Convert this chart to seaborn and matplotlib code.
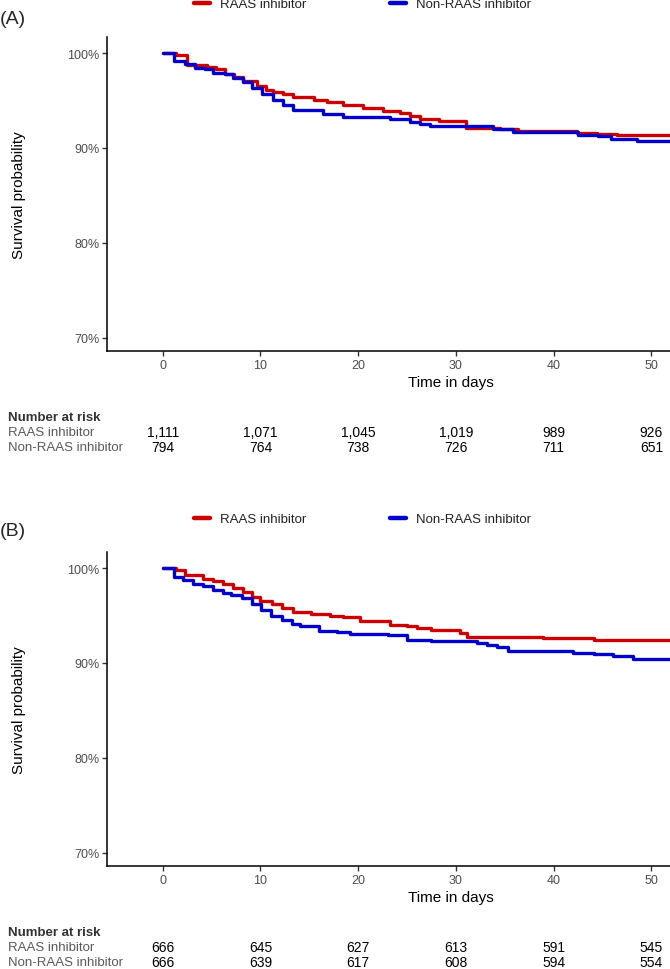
import numpy as np
import pandas as pd
import matplotlib
matplotlib.use('Agg')
import matplotlib.pyplot as plt
import matplotlib.transforms as mtransforms
from matplotlib.lines import Line2D
from matplotlib.ticker import PercentFormatter
import seaborn as sns

groups = ['RAAS inhibitor', 'Non-RAAS inhibitor']
colors = ['#cc0000', '#0000cc']

# (A) survival steps (days, %)
a_raas_t = [0, 1.4, 2.5, 4.5, 5.5, 6.4, 7.3, 8.2, 9.6, 10.6, 11.3, 12.3, 13.3, 15.5, 16.8,
            18.4, 20.5, 22.5, 24.3, 25.3, 26.3, 28.3, 31.0, 34.5, 36.3, 42.4, 44.4, 46.5, 60]
a_raas_s = [100, 99.8, 98.8, 98.5, 98.3, 97.8, 97.45, 97.1, 96.5, 96.1, 95.9, 95.65, 95.35, 95.1, 94.9,
            94.55, 94.2, 93.95, 93.65, 93.35, 93.05, 92.8, 92.1, 92.0, 91.75, 91.6, 91.5, 91.4, 91.4]
a_non_t = [0, 1.2, 2.3, 3.3, 4.3, 5.1, 6.4, 7.2, 8.2, 9.1, 10.2, 11.3, 12.3, 13.3, 16.4,
           18.4, 23.3, 25.3, 26.3, 27.3, 32.8, 33.8, 35.8, 42.5, 44.5, 45.9, 48.5, 60]
a_non_s = [100, 99.2, 98.9, 98.45, 98.3, 97.95, 97.75, 97.4, 97.0, 96.35, 95.65, 95.05, 94.5, 94.0, 93.6,
           93.25, 93.1, 92.7, 92.5, 92.35, 92.3, 92.0, 91.65, 91.4, 91.25, 91.0, 90.7, 90.7]

# (B)
b_raas_t = [0, 1.4, 2.3, 4.1, 5.1, 6.2, 7.2, 8.2, 9.1, 10.0, 11.2, 12.2, 13.3, 15.2, 17.1,
            18.4, 20.2, 23.3, 25.0, 26.0, 27.4, 30.4, 31.1, 38.9, 44.1, 60]
b_raas_s = [100, 99.8, 99.25, 98.9, 98.65, 98.3, 97.95, 97.45, 97.0, 96.55, 96.2, 95.75, 95.4, 95.15, 95.0,
            94.8, 94.45, 94.05, 93.9, 93.7, 93.5, 93.2, 92.75, 92.6, 92.4, 92.4]
b_non_t = [0, 1.2, 2.1, 3.1, 4.1, 5.1, 6.2, 7.0, 8.1, 9.1, 10.1, 11.1, 12.2, 13.2, 14.0,
           16.0, 17.8, 19.2, 23.0, 25.0, 27.4, 32.2, 33.2, 34.2, 35.3, 42.0, 44.1, 46.1, 48.1, 60]
b_non_s = [100, 99.1, 98.8, 98.3, 98.1, 97.7, 97.4, 97.2, 96.8, 96.2, 95.6, 95.0, 94.5, 94.1, 93.85,
           93.4, 93.3, 93.05, 92.95, 92.45, 92.3, 92.1, 91.85, 91.65, 91.3, 91.05, 90.9, 90.75, 90.4, 90.4]

# number at risk tables
risk_times = [0, 10, 20, 30, 40, 50]
a_risk_raas = ['1,111', '1,071', '1,045', '1,019', '989', '926']
a_risk_non = ['794', '764', '738', '726', '711', '651']
b_risk_raas = ['666', '645', '627', '613', '591', '545']
b_risk_non = ['666', '639', '617', '608', '594', '554']

sns.set_theme(style='ticks')
plt.rcParams['font.family'] = ['Liberation Sans', 'DejaVu Sans']

fig = plt.figure(figsize=(6.7, 9.7), dpi=100)
H = 970.0


def fy(py):
    return 1 - py / H


def km_frame(t_r, s_r, t_n, s_n):
    d1 = pd.DataFrame({'time': t_r, 'surv': s_r, 'group': groups[0]})
    d2 = pd.DataFrame({'time': t_n, 'surv': s_n, 'group': groups[1]})
    return pd.concat([d1, d2], ignore_index=True)


panels = [
    dict(tag='(A)', top=38, df=km_frame(a_raas_t, a_raas_s, a_non_t, a_non_s),
         risk=[a_risk_raas, a_risk_non], tag_y=19, leg_y=5, risk_y=[418, 433, 448]),
    dict(tag='(B)', top=553, df=km_frame(b_raas_t, b_raas_s, b_non_t, b_non_s),
         risk=[b_risk_raas, b_risk_non], tag_y=532, leg_y=520, risk_y=[933, 948, 963]),
]

for p in panels:
    ax = fig.add_axes([107 / 670, fy(p['top'] + 314), 1 - 107 / 670, 314 / H])
    sns.lineplot(data=p['df'], x='time', y='surv', hue='group', hue_order=groups,
                 palette=dict(zip(groups, colors)), drawstyle='steps-post',
                 linewidth=2.4, estimator=None, legend=False, ax=ax)
    ax.set_xlim(-5.7, 51.9)
    ax.set_ylim(68.6, 101.7)
    ax.set_xticks(risk_times)
    ax.set_yticks([70, 80, 90, 100])
    ax.yaxis.set_major_formatter(PercentFormatter(xmax=100, decimals=0))
    sns.despine(ax=ax)
    for side in ['left', 'bottom']:
        ax.spines[side].set_color('black')
        ax.spines[side].set_linewidth(1.1)
    ax.tick_params(axis='both', length=3.5, width=1, color='#333333',
                   labelsize=9, labelcolor='#4d4d4d', pad=2)
    ax.set_xlabel('Time in days', fontsize=11, color='black')
    ax.set_ylabel('Survival probability', fontsize=11, color='black')
    ax.xaxis.set_label_coords(0.611, -0.078)
    ax.yaxis.set_label_coords(-0.144, 0.5)

    fig.text(0.0, fy(p['tag_y']), p['tag'], fontsize=14, va='center', ha='left')

    handles = [Line2D([], [], color=c, linewidth=3.2) for c in colors]
    fig.legend(handles, groups, loc='center left', bbox_to_anchor=(194 / 670, fy(p['leg_y'])),
               ncol=2, frameon=False, fontsize=9.5, handlelength=1.25, handletextpad=0.75,
               columnspacing=6.3, borderpad=0, borderaxespad=0, labelcolor='#222222')

    # number at risk table
    trans = mtransforms.blended_transform_factory(ax.transData, fig.transFigure)
    fig.text(8 / 670, fy(p['risk_y'][0]), 'Number at risk', fontsize=9.5, fontweight='bold',
             color='#333333', va='center', ha='left')
    for label, row, py in zip(groups, p['risk'], p['risk_y'][1:]):
        fig.text(8 / 670, fy(py), label, fontsize=9.5, color='#595959', va='center', ha='left')
        for t, n in zip(risk_times, row):
            ax.text(t, fy(py), n, transform=trans, fontsize=10, color='black',
                    va='center', ha='center', clip_on=False)

fig.savefig('out.png', dpi=100)
